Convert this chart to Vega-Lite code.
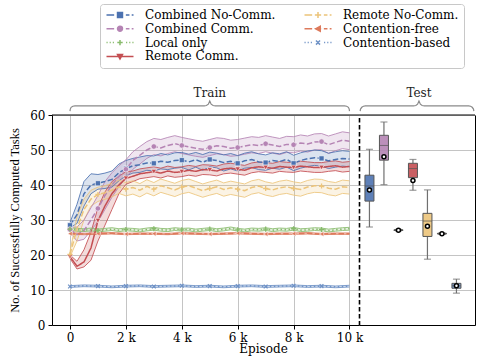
{
"$schema":"https://vega.github.io/schema/vega-lite/v6.json",
"autosize":{"type":"pad"},
"padding":{"left":8,"top":3,"right":9,"bottom":2},
"bounds":"flush",
"spacing":0,
"datasets":{
"train":[
{"s":"Combined No-Comm.","e":0,"m":28.5,"l":27.8,"h":29.3},
{"s":"Combined No-Comm.","e":250,"m":31.5,"l":29.0,"h":34.5},
{"s":"Combined No-Comm.","e":500,"m":37.5,"l":34.0,"h":41.0},
{"s":"Combined No-Comm.","e":750,"m":40.0,"l":37.5,"h":43.2},
{"s":"Combined No-Comm.","e":1000,"m":40.5,"l":38.8,"h":43.0},
{"s":"Combined No-Comm.","e":1250,"m":41.0,"l":39.0,"h":43.4},
{"s":"Combined No-Comm.","e":1500,"m":41.6,"l":39.4,"h":44.0},
{"s":"Combined No-Comm.","e":1750,"m":43.5,"l":41.2,"h":46.0},
{"s":"Combined No-Comm.","e":2000,"m":44.7,"l":42.6,"h":47.0},
{"s":"Combined No-Comm.","e":2250,"m":45.5,"l":43.4,"h":47.6},
{"s":"Combined No-Comm.","e":2500,"m":45.8,"l":43.6,"h":48.0},
{"s":"Combined No-Comm.","e":2750,"m":46.3,"l":44.2,"h":48.4},
{"s":"Combined No-Comm.","e":3000,"m":46.2,"l":44.0,"h":48.3},
{"s":"Combined No-Comm.","e":3250,"m":46.8,"l":44.6,"h":49.0},
{"s":"Combined No-Comm.","e":3500,"m":46.5,"l":44.4,"h":48.6},
{"s":"Combined No-Comm.","e":3750,"m":47.0,"l":44.8,"h":49.2},
{"s":"Combined No-Comm.","e":4000,"m":47.1,"l":45.0,"h":49.3},
{"s":"Combined No-Comm.","e":4250,"m":46.6,"l":44.3,"h":48.8},
{"s":"Combined No-Comm.","e":4500,"m":47.2,"l":45.1,"h":49.3},
{"s":"Combined No-Comm.","e":4750,"m":46.5,"l":44.2,"h":48.7},
{"s":"Combined No-Comm.","e":5000,"m":47.3,"l":45.2,"h":49.4},
{"s":"Combined No-Comm.","e":5250,"m":47.0,"l":44.9,"h":49.1},
{"s":"Combined No-Comm.","e":5500,"m":46.4,"l":44.0,"h":48.6},
{"s":"Combined No-Comm.","e":5750,"m":46.8,"l":44.6,"h":49.0},
{"s":"Combined No-Comm.","e":6000,"m":46.2,"l":44.0,"h":48.4},
{"s":"Combined No-Comm.","e":6250,"m":46.9,"l":44.8,"h":49.1},
{"s":"Combined No-Comm.","e":6500,"m":47.3,"l":45.0,"h":49.5},
{"s":"Combined No-Comm.","e":6750,"m":46.6,"l":44.4,"h":48.9},
{"s":"Combined No-Comm.","e":7000,"m":46.4,"l":44.2,"h":48.6},
{"s":"Combined No-Comm.","e":7250,"m":47.0,"l":44.8,"h":49.2},
{"s":"Combined No-Comm.","e":7500,"m":46.7,"l":44.5,"h":48.9},
{"s":"Combined No-Comm.","e":7750,"m":47.3,"l":45.1,"h":49.5},
{"s":"Combined No-Comm.","e":8000,"m":46.2,"l":44.1,"h":48.5},
{"s":"Combined No-Comm.","e":8250,"m":47.0,"l":44.8,"h":49.2},
{"s":"Combined No-Comm.","e":8500,"m":47.5,"l":45.3,"h":49.7},
{"s":"Combined No-Comm.","e":8750,"m":47.8,"l":45.6,"h":50.0},
{"s":"Combined No-Comm.","e":9000,"m":47.6,"l":45.4,"h":49.8},
{"s":"Combined No-Comm.","e":9250,"m":46.9,"l":44.7,"h":49.1},
{"s":"Combined No-Comm.","e":9500,"m":47.3,"l":45.1,"h":49.5},
{"s":"Combined No-Comm.","e":9750,"m":47.6,"l":45.4,"h":49.8},
{"s":"Combined No-Comm.","e":10000,"m":47.4,"l":45.2,"h":49.6},
{"s":"Combined Comm.","e":0,"m":27.3,"l":26.5,"h":28.0},
{"s":"Combined Comm.","e":250,"m":25.8,"l":24.0,"h":28.0},
{"s":"Combined Comm.","e":500,"m":27.0,"l":24.5,"h":30.0},
{"s":"Combined Comm.","e":750,"m":30.0,"l":27.0,"h":33.5},
{"s":"Combined Comm.","e":1000,"m":33.3,"l":29.5,"h":37.0},
{"s":"Combined Comm.","e":1250,"m":37.0,"l":33.0,"h":41.0},
{"s":"Combined Comm.","e":1500,"m":40.0,"l":36.5,"h":43.5},
{"s":"Combined Comm.","e":1750,"m":42.5,"l":39.5,"h":45.5},
{"s":"Combined Comm.","e":2000,"m":44.5,"l":42.0,"h":47.2},
{"s":"Combined Comm.","e":2250,"m":47.0,"l":44.5,"h":49.5},
{"s":"Combined Comm.","e":2500,"m":48.5,"l":46.0,"h":51.0},
{"s":"Combined Comm.","e":2750,"m":50.0,"l":47.6,"h":52.4},
{"s":"Combined Comm.","e":3000,"m":51.0,"l":48.7,"h":53.3},
{"s":"Combined Comm.","e":3250,"m":50.6,"l":48.3,"h":53.0},
{"s":"Combined Comm.","e":3500,"m":51.3,"l":49.0,"h":53.6},
{"s":"Combined Comm.","e":3750,"m":51.8,"l":49.5,"h":54.1},
{"s":"Combined Comm.","e":4000,"m":51.3,"l":49.0,"h":53.6},
{"s":"Combined Comm.","e":4250,"m":50.9,"l":48.6,"h":53.2},
{"s":"Combined Comm.","e":4500,"m":50.5,"l":48.2,"h":52.8},
{"s":"Combined Comm.","e":4750,"m":50.2,"l":47.9,"h":52.5},
{"s":"Combined Comm.","e":5000,"m":50.7,"l":48.4,"h":53.0},
{"s":"Combined Comm.","e":5250,"m":51.2,"l":48.9,"h":53.5},
{"s":"Combined Comm.","e":5500,"m":51.0,"l":48.7,"h":53.3},
{"s":"Combined Comm.","e":5750,"m":50.5,"l":48.2,"h":52.8},
{"s":"Combined Comm.","e":6000,"m":50.7,"l":48.4,"h":53.0},
{"s":"Combined Comm.","e":6250,"m":51.1,"l":48.8,"h":53.4},
{"s":"Combined Comm.","e":6500,"m":51.5,"l":49.2,"h":53.8},
{"s":"Combined Comm.","e":6750,"m":51.3,"l":49.0,"h":53.6},
{"s":"Combined Comm.","e":7000,"m":51.8,"l":49.5,"h":54.1},
{"s":"Combined Comm.","e":7250,"m":51.4,"l":49.1,"h":53.7},
{"s":"Combined Comm.","e":7500,"m":51.0,"l":48.7,"h":53.3},
{"s":"Combined Comm.","e":7750,"m":51.6,"l":49.3,"h":53.9},
{"s":"Combined Comm.","e":8000,"m":51.5,"l":49.2,"h":53.8},
{"s":"Combined Comm.","e":8250,"m":52.0,"l":49.7,"h":54.3},
{"s":"Combined Comm.","e":8500,"m":51.7,"l":49.4,"h":54.0},
{"s":"Combined Comm.","e":8750,"m":52.3,"l":50.0,"h":54.6},
{"s":"Combined Comm.","e":9000,"m":52.4,"l":50.1,"h":54.7},
{"s":"Combined Comm.","e":9250,"m":51.5,"l":49.0,"h":54.0},
{"s":"Combined Comm.","e":9500,"m":52.2,"l":49.8,"h":54.6},
{"s":"Combined Comm.","e":9750,"m":52.8,"l":50.4,"h":55.2},
{"s":"Combined Comm.","e":10000,"m":52.5,"l":50.1,"h":54.9},
{"s":"Remote Comm.","e":0,"m":19.5,"l":19.0,"h":20.0},
{"s":"Remote Comm.","e":250,"m":16.8,"l":16.0,"h":18.2},
{"s":"Remote Comm.","e":500,"m":18.0,"l":16.6,"h":21.5},
{"s":"Remote Comm.","e":750,"m":22.0,"l":18.5,"h":26.5},
{"s":"Remote Comm.","e":1000,"m":29.8,"l":24.0,"h":33.5},
{"s":"Remote Comm.","e":1250,"m":34.0,"l":28.5,"h":38.0},
{"s":"Remote Comm.","e":1500,"m":37.5,"l":33.0,"h":41.0},
{"s":"Remote Comm.","e":1750,"m":40.0,"l":37.5,"h":42.5},
{"s":"Remote Comm.","e":2000,"m":41.9,"l":40.2,"h":43.8},
{"s":"Remote Comm.","e":2250,"m":42.5,"l":41.0,"h":44.0},
{"s":"Remote Comm.","e":2500,"m":43.2,"l":41.8,"h":44.6},
{"s":"Remote Comm.","e":2750,"m":43.5,"l":42.1,"h":44.9},
{"s":"Remote Comm.","e":3000,"m":43.8,"l":42.4,"h":45.2},
{"s":"Remote Comm.","e":3250,"m":43.4,"l":42.0,"h":44.8},
{"s":"Remote Comm.","e":3500,"m":44.0,"l":42.6,"h":45.4},
{"s":"Remote Comm.","e":3750,"m":43.6,"l":42.2,"h":45.0},
{"s":"Remote Comm.","e":4000,"m":43.8,"l":42.4,"h":45.2},
{"s":"Remote Comm.","e":4250,"m":44.2,"l":42.8,"h":45.6},
{"s":"Remote Comm.","e":4500,"m":43.9,"l":42.5,"h":45.3},
{"s":"Remote Comm.","e":4750,"m":44.4,"l":43.0,"h":45.8},
{"s":"Remote Comm.","e":5000,"m":44.3,"l":42.9,"h":45.7},
{"s":"Remote Comm.","e":5250,"m":44.0,"l":42.6,"h":45.4},
{"s":"Remote Comm.","e":5500,"m":44.6,"l":43.2,"h":46.0},
{"s":"Remote Comm.","e":5750,"m":44.8,"l":43.4,"h":46.2},
{"s":"Remote Comm.","e":6000,"m":44.5,"l":43.1,"h":45.9},
{"s":"Remote Comm.","e":6250,"m":44.2,"l":42.8,"h":45.6},
{"s":"Remote Comm.","e":6500,"m":44.9,"l":43.5,"h":46.3},
{"s":"Remote Comm.","e":6750,"m":45.2,"l":43.8,"h":46.6},
{"s":"Remote Comm.","e":7000,"m":45.0,"l":43.6,"h":46.4},
{"s":"Remote Comm.","e":7250,"m":44.8,"l":43.4,"h":46.2},
{"s":"Remote Comm.","e":7500,"m":45.3,"l":43.9,"h":46.7},
{"s":"Remote Comm.","e":7750,"m":45.1,"l":43.7,"h":46.5},
{"s":"Remote Comm.","e":8000,"m":45.0,"l":43.6,"h":46.4},
{"s":"Remote Comm.","e":8250,"m":45.4,"l":44.0,"h":46.8},
{"s":"Remote Comm.","e":8500,"m":45.2,"l":43.8,"h":46.6},
{"s":"Remote Comm.","e":8750,"m":45.0,"l":43.6,"h":46.4},
{"s":"Remote Comm.","e":9000,"m":45.0,"l":43.6,"h":46.4},
{"s":"Remote Comm.","e":9250,"m":45.3,"l":43.9,"h":46.7},
{"s":"Remote Comm.","e":9500,"m":45.5,"l":44.1,"h":46.9},
{"s":"Remote Comm.","e":9750,"m":45.1,"l":43.7,"h":46.5},
{"s":"Remote Comm.","e":10000,"m":45.3,"l":43.9,"h":46.7},
{"s":"Remote No-Comm.","e":0,"m":20.2,"l":19.5,"h":21.0},
{"s":"Remote No-Comm.","e":250,"m":27.5,"l":24.0,"h":31.0},
{"s":"Remote No-Comm.","e":500,"m":33.0,"l":30.0,"h":36.0},
{"s":"Remote No-Comm.","e":750,"m":36.0,"l":34.0,"h":38.5},
{"s":"Remote No-Comm.","e":1000,"m":37.3,"l":35.3,"h":39.4},
{"s":"Remote No-Comm.","e":1250,"m":37.8,"l":35.9,"h":39.8},
{"s":"Remote No-Comm.","e":1500,"m":38.5,"l":36.6,"h":40.5},
{"s":"Remote No-Comm.","e":1750,"m":39.5,"l":37.6,"h":41.4},
{"s":"Remote No-Comm.","e":2000,"m":38.8,"l":36.9,"h":40.7},
{"s":"Remote No-Comm.","e":2250,"m":39.3,"l":37.4,"h":41.2},
{"s":"Remote No-Comm.","e":2500,"m":38.5,"l":36.6,"h":40.4},
{"s":"Remote No-Comm.","e":2750,"m":39.6,"l":37.7,"h":41.5},
{"s":"Remote No-Comm.","e":3000,"m":38.8,"l":36.9,"h":40.7},
{"s":"Remote No-Comm.","e":3250,"m":39.8,"l":37.9,"h":41.7},
{"s":"Remote No-Comm.","e":3500,"m":39.2,"l":37.3,"h":41.1},
{"s":"Remote No-Comm.","e":3750,"m":38.6,"l":36.7,"h":40.5},
{"s":"Remote No-Comm.","e":4000,"m":39.4,"l":37.5,"h":41.3},
{"s":"Remote No-Comm.","e":4250,"m":39.8,"l":37.9,"h":41.7},
{"s":"Remote No-Comm.","e":4500,"m":39.1,"l":37.2,"h":41.0},
{"s":"Remote No-Comm.","e":4750,"m":38.4,"l":36.5,"h":40.3},
{"s":"Remote No-Comm.","e":5000,"m":39.0,"l":37.1,"h":40.9},
{"s":"Remote No-Comm.","e":5250,"m":39.5,"l":37.6,"h":41.4},
{"s":"Remote No-Comm.","e":5500,"m":38.7,"l":36.8,"h":40.6},
{"s":"Remote No-Comm.","e":5750,"m":39.2,"l":37.3,"h":41.1},
{"s":"Remote No-Comm.","e":6000,"m":38.8,"l":36.9,"h":40.7},
{"s":"Remote No-Comm.","e":6250,"m":38.4,"l":36.5,"h":40.3},
{"s":"Remote No-Comm.","e":6500,"m":39.3,"l":37.4,"h":41.2},
{"s":"Remote No-Comm.","e":6750,"m":39.7,"l":37.8,"h":41.6},
{"s":"Remote No-Comm.","e":7000,"m":39.0,"l":37.1,"h":40.9},
{"s":"Remote No-Comm.","e":7250,"m":38.6,"l":36.7,"h":40.5},
{"s":"Remote No-Comm.","e":7500,"m":39.2,"l":37.3,"h":41.1},
{"s":"Remote No-Comm.","e":7750,"m":39.5,"l":37.6,"h":41.4},
{"s":"Remote No-Comm.","e":8000,"m":39.0,"l":37.1,"h":40.9},
{"s":"Remote No-Comm.","e":8250,"m":38.7,"l":36.8,"h":40.6},
{"s":"Remote No-Comm.","e":8500,"m":39.4,"l":37.5,"h":41.3},
{"s":"Remote No-Comm.","e":8750,"m":39.8,"l":37.9,"h":41.7},
{"s":"Remote No-Comm.","e":9000,"m":39.7,"l":37.8,"h":41.6},
{"s":"Remote No-Comm.","e":9250,"m":39.1,"l":37.2,"h":41.0},
{"s":"Remote No-Comm.","e":9500,"m":38.8,"l":36.9,"h":40.7},
{"s":"Remote No-Comm.","e":9750,"m":39.5,"l":37.6,"h":41.4},
{"s":"Remote No-Comm.","e":10000,"m":39.3,"l":37.4,"h":41.2},
{"s":"Local only","e":0,"m":27.4,"l":27.0,"h":27.8},
{"s":"Local only","e":250,"m":27.2,"l":26.8,"h":27.6},
{"s":"Local only","e":500,"m":27.1,"l":26.7,"h":27.5},
{"s":"Local only","e":750,"m":27.3,"l":26.9,"h":27.7},
{"s":"Local only","e":1000,"m":27.0,"l":26.6,"h":27.4},
{"s":"Local only","e":1250,"m":27.2,"l":26.8,"h":27.6},
{"s":"Local only","e":1500,"m":27.4,"l":27.0,"h":27.8},
{"s":"Local only","e":1750,"m":27.1,"l":26.7,"h":27.5},
{"s":"Local only","e":2000,"m":27.3,"l":26.9,"h":27.7},
{"s":"Local only","e":2250,"m":27.2,"l":26.8,"h":27.6},
{"s":"Local only","e":2500,"m":27.0,"l":26.6,"h":27.4},
{"s":"Local only","e":2750,"m":27.3,"l":26.9,"h":27.7},
{"s":"Local only","e":3000,"m":27.5,"l":27.1,"h":27.9},
{"s":"Local only","e":3250,"m":27.2,"l":26.8,"h":27.6},
{"s":"Local only","e":3500,"m":27.1,"l":26.7,"h":27.5},
{"s":"Local only","e":3750,"m":27.4,"l":27.0,"h":27.8},
{"s":"Local only","e":4000,"m":27.2,"l":26.8,"h":27.6},
{"s":"Local only","e":4250,"m":27.3,"l":26.9,"h":27.7},
{"s":"Local only","e":4500,"m":27.0,"l":26.6,"h":27.4},
{"s":"Local only","e":4750,"m":27.2,"l":26.8,"h":27.6},
{"s":"Local only","e":5000,"m":27.4,"l":27.0,"h":27.8},
{"s":"Local only","e":5250,"m":27.1,"l":26.7,"h":27.5},
{"s":"Local only","e":5500,"m":27.3,"l":26.9,"h":27.7},
{"s":"Local only","e":5750,"m":27.6,"l":27.2,"h":28.0},
{"s":"Local only","e":6000,"m":27.2,"l":26.8,"h":27.6},
{"s":"Local only","e":6250,"m":27.0,"l":26.6,"h":27.4},
{"s":"Local only","e":6500,"m":27.3,"l":26.9,"h":27.7},
{"s":"Local only","e":6750,"m":27.2,"l":26.8,"h":27.6},
{"s":"Local only","e":7000,"m":27.4,"l":27.0,"h":27.8},
{"s":"Local only","e":7250,"m":27.1,"l":26.7,"h":27.5},
{"s":"Local only","e":7500,"m":27.3,"l":26.9,"h":27.7},
{"s":"Local only","e":7750,"m":27.2,"l":26.8,"h":27.6},
{"s":"Local only","e":8000,"m":27.5,"l":27.1,"h":27.9},
{"s":"Local only","e":8250,"m":27.1,"l":26.7,"h":27.5},
{"s":"Local only","e":8500,"m":27.2,"l":26.8,"h":27.6},
{"s":"Local only","e":8750,"m":27.4,"l":27.0,"h":27.8},
{"s":"Local only","e":9000,"m":27.3,"l":26.9,"h":27.7},
{"s":"Local only","e":9250,"m":27.0,"l":26.6,"h":27.4},
{"s":"Local only","e":9500,"m":27.2,"l":26.8,"h":27.6},
{"s":"Local only","e":9750,"m":27.4,"l":27.0,"h":27.8},
{"s":"Local only","e":10000,"m":27.5,"l":27.1,"h":27.9},
{"s":"Contention-free","e":0,"m":26.1,"l":25.9,"h":26.3},
{"s":"Contention-free","e":500,"m":26.0,"l":25.8,"h":26.2},
{"s":"Contention-free","e":1000,"m":26.1,"l":25.9,"h":26.3},
{"s":"Contention-free","e":1500,"m":26.2,"l":26.0,"h":26.4},
{"s":"Contention-free","e":2000,"m":26.0,"l":25.8,"h":26.2},
{"s":"Contention-free","e":2500,"m":26.1,"l":25.9,"h":26.3},
{"s":"Contention-free","e":3000,"m":26.1,"l":25.9,"h":26.3},
{"s":"Contention-free","e":3500,"m":26.0,"l":25.8,"h":26.2},
{"s":"Contention-free","e":4000,"m":26.2,"l":26.0,"h":26.4},
{"s":"Contention-free","e":4500,"m":26.1,"l":25.9,"h":26.3},
{"s":"Contention-free","e":5000,"m":26.0,"l":25.8,"h":26.2},
{"s":"Contention-free","e":5500,"m":26.1,"l":25.9,"h":26.3},
{"s":"Contention-free","e":6000,"m":26.2,"l":26.0,"h":26.4},
{"s":"Contention-free","e":6500,"m":26.1,"l":25.9,"h":26.3},
{"s":"Contention-free","e":7000,"m":26.0,"l":25.8,"h":26.2},
{"s":"Contention-free","e":7500,"m":26.1,"l":25.9,"h":26.3},
{"s":"Contention-free","e":8000,"m":26.1,"l":25.9,"h":26.3},
{"s":"Contention-free","e":8500,"m":26.2,"l":26.0,"h":26.4},
{"s":"Contention-free","e":9000,"m":26.0,"l":25.8,"h":26.2},
{"s":"Contention-free","e":9500,"m":26.1,"l":25.9,"h":26.3},
{"s":"Contention-free","e":10000,"m":26.1,"l":25.9,"h":26.3},
{"s":"Contention-based","e":0,"m":11.0,"l":10.75,"h":11.25},
{"s":"Contention-based","e":500,"m":11.2,"l":10.95,"h":11.45},
{"s":"Contention-based","e":1000,"m":11.1,"l":10.85,"h":11.35},
{"s":"Contention-based","e":1500,"m":10.9,"l":10.65,"h":11.15},
{"s":"Contention-based","e":2000,"m":11.1,"l":10.85,"h":11.35},
{"s":"Contention-based","e":2500,"m":11.2,"l":10.95,"h":11.45},
{"s":"Contention-based","e":3000,"m":11.0,"l":10.75,"h":11.25},
{"s":"Contention-based","e":3500,"m":11.1,"l":10.85,"h":11.35},
{"s":"Contention-based","e":4000,"m":11.2,"l":10.95,"h":11.45},
{"s":"Contention-based","e":4500,"m":11.0,"l":10.75,"h":11.25},
{"s":"Contention-based","e":5000,"m":11.1,"l":10.85,"h":11.35},
{"s":"Contention-based","e":5500,"m":10.9,"l":10.65,"h":11.15},
{"s":"Contention-based","e":6000,"m":11.1,"l":10.85,"h":11.35},
{"s":"Contention-based","e":6500,"m":11.2,"l":10.95,"h":11.45},
{"s":"Contention-based","e":7000,"m":11.0,"l":10.75,"h":11.25},
{"s":"Contention-based","e":7500,"m":11.1,"l":10.85,"h":11.35},
{"s":"Contention-based","e":8000,"m":11.2,"l":10.95,"h":11.45},
{"s":"Contention-based","e":8500,"m":11.0,"l":10.75,"h":11.25},
{"s":"Contention-based","e":9000,"m":11.1,"l":10.85,"h":11.35},
{"s":"Contention-based","e":9500,"m":10.9,"l":10.65,"h":11.15},
{"s":"Contention-based","e":10000,"m":11.1,"l":10.85,"h":11.35}
],
"test":[
{"s":"Combined No-Comm.","lo":28.0,"q1":35.4,"med":39.7,"q3":42.8,"hi":50.2,"mean":38.6},
{"s":"Combined Comm.","lo":40.1,"q1":47.1,"med":51.3,"q3":54.2,"hi":58.0,"mean":48.1},
{"s":"Local only","lo":26.9,"q1":27.0,"med":27.1,"q3":27.2,"hi":27.3,"mean":27.1},
{"s":"Remote Comm.","lo":38.5,"q1":42.1,"med":44.7,"q3":46.2,"hi":47.3,"mean":41.3},
{"s":"Remote No-Comm.","lo":18.8,"q1":25.3,"med":29.7,"q3":31.9,"hi":38.6,"mean":28.2},
{"s":"Contention-free","lo":25.9,"q1":26.0,"med":26.1,"q3":26.2,"hi":26.3,"mean":26.1},
{"s":"Contention-based","lo":9.1,"q1":10.5,"med":11.2,"q3":11.9,"hi":13.1,"mean":11.2}
],
"leg":[
{"s":"Combined No-Comm."},{"s":"Combined Comm."},{"s":"Local only"},{"s":"Remote Comm."},{"s":"Remote No-Comm."},{"s":"Contention-free"},{"s":"Contention-based"}
],
"bt":[
{"bx":0,"by":61.1},{"bx":10,"by":61.7},{"bx":40,"by":62.2},{"bx":100,"by":62.5},{"bx":180,"by":62.6},
{"bx":4800,"by":62.6},{"bx":4880,"by":62.7},{"bx":4950,"by":63.1},{"bx":5000,"by":64.0},{"bx":5050,"by":63.1},{"bx":5120,"by":62.7},{"bx":5200,"by":62.6},
{"bx":9820,"by":62.6},{"bx":9900,"by":62.5},{"bx":9960,"by":62.2},{"bx":9990,"by":61.7},{"bx":10000,"by":61.1}
],
"bs":[
{"bx":0.01,"by":61.1},{"bx":0.013,"by":61.7},{"bx":0.024,"by":62.2},{"bx":0.038,"by":62.5},{"bx":0.055,"by":62.6},
{"bx":0.47,"by":62.6},{"bx":0.49,"by":62.7},{"bx":0.505,"by":63.1},{"bx":0.517,"by":64.0},{"bx":0.529,"by":63.1},{"bx":0.544,"by":62.7},{"bx":0.564,"by":62.6},
{"bx":0.945,"by":62.6},{"bx":0.962,"by":62.5},{"bx":0.976,"by":62.2},{"bx":0.987,"by":61.7},{"bx":0.99,"by":61.1}
]
},
"hconcat":[
{
"width":307,"height":210,
"layer":[
{"data":{"name":"train"},"mark":{"type":"area","opacity":0.2},
 "encoding":{
  "x":{"field":"e","type":"quantitative","scale":{"domain":[-644,10340],"nice":false,"zero":false},
   "axis":{"title":"Episode","values":[0,2000,4000,6000,8000,10000],"tickCount":12,"labelExpr":"datum.value == 0 ? '0' : format(datum.value/1000,'d') + ' k'","grid":true,"titleX":211,"titlePadding":0}},
  "y":{"field":"l","type":"quantitative","stack":null,"scale":{"domain":[0,60],"nice":false,"zero":false},
   "axis":{"title":"No. of Successfully Computed Tasks","values":[0,10,20,30,40,50,60],"tickCount":12,"labelOverlap":false,"grid":true,"titleFont":"Liberation Serif","titleFontSize":12.5,"titlePadding":8}},
  "y2":{"field":"h"},
  "color":{"field":"s","type":"nominal","legend":null,
   "scale":{"domain":["Combined No-Comm.","Remote No-Comm.","Combined Comm.","Contention-free","Local only","Contention-based","Remote Comm."],
            "range":["#4c72b0","#ecc47a","#b584b4","#dd7a5c","#88bb6c","#6f92c6","#c44e52"]}}
 }},
{"data":{"name":"train"},"mark":{"type":"line","strokeWidth":1,"opacity":0.85},
 "encoding":{"x":{"field":"e","type":"quantitative"},"y":{"field":"l","type":"quantitative"},"color":{"field":"s","type":"nominal","legend":null}}},
{"data":{"name":"train"},"mark":{"type":"line","strokeWidth":1,"opacity":0.85},
 "encoding":{"x":{"field":"e","type":"quantitative"},"y":{"field":"h","type":"quantitative"},"color":{"field":"s","type":"nominal","legend":null}}},
{"data":{"name":"train"},"mark":{"type":"line","strokeWidth":1.5},
 "encoding":{"x":{"field":"e","type":"quantitative"},"y":{"field":"m","type":"quantitative"},"color":{"field":"s","type":"nominal","legend":null},
  "strokeDash":{"field":"s","type":"nominal","legend":null,
   "scale":{"domain":["Combined No-Comm.","Remote No-Comm.","Combined Comm.","Contention-free","Local only","Contention-based","Remote Comm."],
            "range":[[5.5,2.4],[5.5,2.4],[5.5,2.4],[5.5,2.4],[1.5,2.5],[1.5,2.5],[1,0]]}}}},
{"data":{"name":"train"},"transform":[{"filter":"datum.s == 'Combined No-Comm.' && datum.e % 1000 == 0 && datum.e < 10000"}],
 "mark":{"type":"point","shape":"square","filled":true,"size":26,"stroke":"white","strokeWidth":0.6,"opacity":1},
 "encoding":{"x":{"field":"e","type":"quantitative"},"y":{"field":"m","type":"quantitative"},"color":{"field":"s","type":"nominal","legend":null}}},
{"data":{"name":"train"},"transform":[{"filter":"datum.s == 'Combined Comm.' && datum.e % 1000 == 0 && datum.e < 10000"}],
 "mark":{"type":"point","shape":"circle","filled":true,"size":30,"stroke":"white","strokeWidth":0.6,"opacity":1},
 "encoding":{"x":{"field":"e","type":"quantitative"},"y":{"field":"m","type":"quantitative"},"color":{"field":"s","type":"nominal","legend":null}}},
{"data":{"name":"train"},"transform":[{"filter":"datum.s == 'Remote Comm.' && datum.e % 1000 == 0 && datum.e < 10000"}],
 "mark":{"type":"point","shape":"triangle-down","filled":true,"size":30,"stroke":"white","strokeWidth":0.6,"opacity":1},
 "encoding":{"x":{"field":"e","type":"quantitative"},"y":{"field":"m","type":"quantitative"},"color":{"field":"s","type":"nominal","legend":null}}},
{"data":{"name":"train"},"transform":[{"filter":"datum.s == 'Contention-free' && datum.e % 1000 == 0 && datum.e < 10000"}],
 "mark":{"type":"point","shape":"triangle-left","filled":true,"size":26,"stroke":"white","strokeWidth":0.6,"opacity":1},
 "encoding":{"x":{"field":"e","type":"quantitative"},"y":{"field":"m","type":"quantitative"},"color":{"field":"s","type":"nominal","legend":null}}},
{"data":{"name":"train"},"transform":[{"filter":"(datum.s == 'Remote No-Comm.' || datum.s == 'Local only') && datum.e % 1000 == 0 && datum.e < 10000"}],
 "mark":{"type":"point","shape":"M-1,0H1M0,-1V1","filled":false,"size":26,"strokeWidth":1.3,"opacity":1},
 "encoding":{"x":{"field":"e","type":"quantitative"},"y":{"field":"m","type":"quantitative"},"color":{"field":"s","type":"nominal","legend":null}}},
{"data":{"name":"train"},"transform":[{"filter":"datum.s == 'Contention-based' && datum.e % 1000 == 0 && datum.e < 10000"}],
 "mark":{"type":"point","shape":"M-1,-1L1,1M-1,1L1,-1","filled":false,"size":14,"strokeWidth":1.2,"opacity":1},
 "encoding":{"x":{"field":"e","type":"quantitative"},"y":{"field":"m","type":"quantitative"},"color":{"field":"s","type":"nominal","legend":null}}},
{"data":{"name":"leg"},"mark":{"type":"point","opacity":0,"filled":true},
 "encoding":{
  "shape":{"field":"s","type":"nominal",
   "scale":{"domain":["Combined No-Comm.","Combined Comm.","Local only","Remote Comm.","Remote No-Comm.","Contention-free","Contention-based"],
    "range":["M-1,0H0.7M1.3,0H2.7M3.3,0H4.1M4.6,0H5M1.45,-0.55H2.55V0.55H1.45Z",
             "M-1,0H0.7M1.3,0H2.7M3.3,0H4.1M4.6,0H5M2.55,0A0.55,0.55,0,1,1,1.45,0A0.55,0.55,0,1,1,2.55,0Z",
             "M-1,0H-0.75M-0.3,0H-0.05M0.4,0H0.65M3.35,0H3.6M4.05,0H4.3M4.75,0H5M1.4,0H2.6M2,-0.6V0.6",
             "M-1,0H5M1.45,-0.45H2.55L2,0.55Z",
             "M-1,0H0.7M1.3,0H2.7M3.3,0H4.1M4.6,0H5M2,-0.65V0.65",
             "M-1,0H0.7M1.3,0H2.7M3.3,0H4.1M4.6,0H5M1.45,0L2.5,-0.55V0.55Z",
             "M-1,0H-0.75M-0.3,0H-0.05M0.4,0H0.65M3.35,0H3.6M4.05,0H4.3M4.75,0H5M1.55,-0.45L2.45,0.45M1.55,0.45L2.45,-0.45"]},
   "legend":{"title":null,"orient":"none","legendX":48,"legendY":-111,"columns":2}},
  "fill":{"field":"s","type":"nominal",
   "scale":{"domain":["Combined No-Comm.","Combined Comm.","Local only","Remote Comm.","Remote No-Comm.","Contention-free","Contention-based"],
            "range":["#4c72b0","#b584b4","#88bb6c","#c44e52","#ecc47a","#dd7a5c","#6f92c6"]},
   "legend":{"title":null,"orient":"none","legendX":48,"legendY":-111,"columns":2}},
  "stroke":{"field":"s","type":"nominal",
   "scale":{"domain":["Combined No-Comm.","Combined Comm.","Local only","Remote Comm.","Remote No-Comm.","Contention-free","Contention-based"],
            "range":["#4c72b0","#b584b4","#88bb6c","#c44e52","#ecc47a","#dd7a5c","#6f92c6"]},
   "legend":{"title":null,"orient":"none","legendX":48,"legendY":-111,"columns":2}}
 }},
{"data":{"values":[{}]},"mark":{"type":"rule","color":"black","strokeWidth":1},
 "encoding":{"y":{"datum":60,"type":"quantitative"}}},
{"data":{"name":"bt"},"mark":{"type":"line","color":"#8a8a8a","strokeWidth":1.2,"clip":false},
 "encoding":{"x":{"field":"bx","type":"quantitative"},"y":{"field":"by","type":"quantitative"}}},
{"data":{"values":[{"bx":5000,"by":66.3,"t":"Train"}]},"mark":{"type":"text","font":"DejaVu Serif","fontSize":12,"color":"#222","clip":false},
 "encoding":{"x":{"field":"bx","type":"quantitative"},"y":{"field":"by","type":"quantitative"},"text":{"field":"t"}}}
]
},
{
"width":116,"height":210,
"layer":[
 {"data":{"name":"test"},
  "layer":[
   {"mark":{"type":"rule","color":"#707070","strokeWidth":1.2},
    "encoding":{
     "x":{"field":"s","type":"nominal","scale":{"type":"point","domain":["Combined No-Comm.","Combined Comm.","Local only","Remote Comm.","Remote No-Comm.","Contention-free","Contention-based"],"padding":1.163,"align":0.36},
      "axis":{"labels":false,"ticks":false,"title":null,"grid":false,"domain":true,"domainColor":"black"}},
     "y":{"field":"lo","type":"quantitative","scale":{"domain":[0,60],"nice":false,"zero":false},
      "axis":{"labels":false,"ticks":false,"title":null,"grid":true,"values":[0,10,20,30,40,50,60],"tickCount":12,"domain":true,"domainDash":[4.5,2.5],"domainWidth":1.6,"domainColor":"black"}},
     "y2":{"field":"q1"}}},
   {"mark":{"type":"rule","color":"#707070","strokeWidth":1.2},
    "encoding":{"x":{"field":"s","type":"nominal"},"y":{"field":"q3","type":"quantitative"},"y2":{"field":"hi"}}},
   {"mark":{"type":"tick","color":"#707070","size":7,"thickness":1.2},
    "encoding":{"x":{"field":"s","type":"nominal"},"y":{"field":"lo","type":"quantitative"}}},
   {"mark":{"type":"tick","color":"#707070","size":7,"thickness":1.2},
    "encoding":{"x":{"field":"s","type":"nominal"},"y":{"field":"hi","type":"quantitative"}}},
   {"mark":{"type":"bar","size":9,"stroke":"#555555","strokeWidth":1,"fillOpacity":0.9},
    "encoding":{"x":{"field":"s","type":"nominal"},"y":{"field":"q1","type":"quantitative"},"y2":{"field":"q3"},
     "color":{"field":"s","type":"nominal","legend":null}}},
   {"mark":{"type":"tick","color":"#555555","size":9,"thickness":1},
    "encoding":{"x":{"field":"s","type":"nominal"},"y":{"field":"med","type":"quantitative"}}},
   {"mark":{"type":"point","shape":"circle","filled":true,"fill":"white","stroke":"black","strokeWidth":1.5,"size":16,"opacity":1},
    "encoding":{"x":{"field":"s","type":"nominal"},"y":{"field":"mean","type":"quantitative"}}}
  ]},
 {"layer":[
   {"data":{"name":"bs"},"mark":{"type":"line","color":"#8a8a8a","strokeWidth":1.2,"clip":false},
    "encoding":{"x":{"field":"bx","type":"quantitative","scale":{"domain":[0,1],"nice":false,"zero":false},"axis":null},
     "y":{"field":"by","type":"quantitative","axis":null}}},
   {"data":{"values":[{"bx":0.517,"by":66.3,"t":"Test"}]},"mark":{"type":"text","font":"DejaVu Serif","fontSize":12,"color":"#222","clip":false},
    "encoding":{"x":{"field":"bx","type":"quantitative","axis":null},"y":{"field":"by","type":"quantitative","axis":null},"text":{"field":"t"}}}
 ]},
 {"data":{"values":[{}]},"mark":{"type":"rule","color":"black","strokeWidth":1},
  "encoding":{"y":{"datum":60,"type":"quantitative","axis":{"orient":"right","labels":false,"ticks":false,"grid":false,"title":null,"domain":true,"domainColor":"black"}}}}
],
"resolve":{"scale":{"x":"independent"},"axis":{"x":"independent","y":"independent"}}
}
],
"config":{
 "view":{"stroke":null},
 "font":"DejaVu Serif",
 "axis":{"labelFont":"DejaVu Serif","labelFontSize":12,"labelColor":"black","titleFont":"DejaVu Serif","titleFontSize":12,"titleFontWeight":"normal","titleColor":"black",
  "gridColor":"#c4c4c4","gridWidth":1,"gridOpacity":1,"domainColor":"black","domainWidth":1,"tickColor":"black","tickSize":4,"tickWidth":1,"labelPadding":3,"labelFlush":false},
 "legend":{"labelFont":"DejaVu Serif","labelFontSize":12,"labelColor":"black","symbolOpacity":1,"symbolStrokeWidth":1.5,"symbolSize":81,
  "labelOffset":28,"rowPadding":1.8,"columnPadding":25,"padding":5,"strokeColor":"#c8c8c8","fillColor":"white","cornerRadius":3}
}
}
